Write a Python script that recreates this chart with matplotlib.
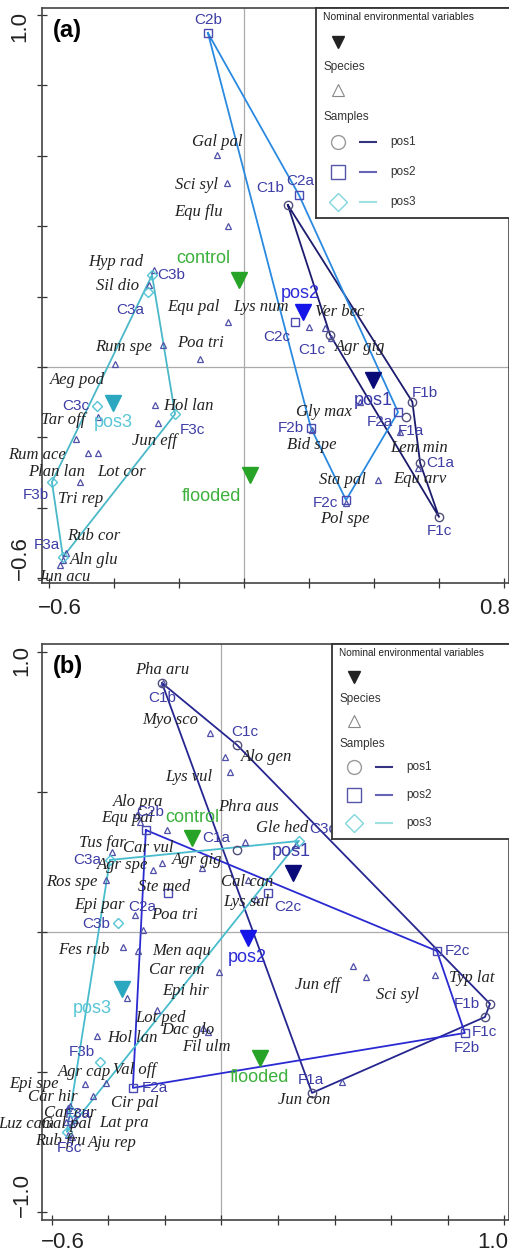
import matplotlib.pyplot as plt

plt.rcParams['font.family'] = ['Liberation Sans', 'DejaVu Sans']

# ---------------- painel (a) ----------------
# amostras (samples)
a_amostras = ['C1b', 'C1c', 'F1b', 'F1a', 'C1a', 'F1c',
              'C2b', 'C2a', 'C2c', 'F2b', 'F2c', 'F2a',
              'C3b', 'C3a', 'C3c', 'F3c', 'F3b', 'F3a']
a_amostras_x = [0.135, 0.265, 0.518, 0.498, 0.542, 0.600,
                -0.111, 0.169, 0.157, 0.206, 0.314, 0.474,
                -0.283, -0.295, -0.452, -0.212, -0.591, -0.557]
a_amostras_y = [0.460, 0.091, -0.099, -0.142, -0.273, -0.426,
                0.949, 0.489, 0.128, -0.173, -0.378, -0.128,
                0.261, 0.213, -0.111, -0.134, -0.327, -0.540]
a_amostras_pos = ['pos1'] * 6 + ['pos2'] * 6 + ['pos3'] * 6
a_contorno = {'pos1': ['C1b', 'F1b', 'C1a', 'F1c', 'C1c'],
              'pos2': ['C2b', 'C2a', 'F2a', 'F2c', 'F2b'],
              'pos3': ['C3b', 'F3c', 'F3a', 'F3b']}

# especies (species)
a_especies = ['Gal pal', 'Sci syl', 'Equ flu', 'Hyp rad', 'Sil dio', 'Equ pal',
              'Lys num', 'Ver bec', 'Agr gig', 'Rum spe', 'Poa tri', 'Aeg pod',
              'Hol lan', 'Jun eff', 'Tar off', 'Rum ace', 'Plan lan', 'Lot cor',
              'Tri rep', 'Rub cor', 'Aln glu', 'Jun acu', 'Gly max', 'Bid spe',
              'Lem min', 'Sta pal', 'Equ arv', 'Pol spe']
a_especies_x = [-0.083, -0.052, -0.049, -0.277, -0.292, -0.049,
                0.200, 0.249, 0.268, -0.249, -0.135, -0.397,
                -0.274, -0.265, -0.449, -0.517, -0.480, -0.449,
                -0.505, -0.548, -0.557, -0.566, 0.357, 0.209,
                0.480, 0.412, 0.535, 0.314]
a_especies_y = [0.602, 0.523, 0.401, 0.276, 0.233, 0.128,
                0.114, 0.111, 0.082, 0.063, 0.023, 0.009,
                -0.108, -0.159, -0.142, -0.205, -0.244, -0.244,
                -0.327, -0.528, -0.548, -0.563, -0.099, -0.179,
                -0.185, -0.321, -0.287, -0.386]

# variaveis ambientais nominais
a_variaveis = ['control', 'flooded', 'pos1', 'pos2', 'pos3']
a_variaveis_x = [-0.015, 0.018, 0.397, 0.182, -0.403]
a_variaveis_y = [0.247, -0.307, -0.037, 0.156, -0.102]

# ---------------- painel (b) ----------------
b_amostras = ['C1b', 'C1c', 'C1a', 'F1a', 'F1b', 'F1c',
              'C2b', 'C2a', 'C2c', 'F2c', 'F2b', 'F2a',
              'C3a', 'C3c', 'C3b', 'F3b', 'F3a', 'F3c']
b_amostras_x = [-0.210, 0.055, 0.055, 0.320, 0.949, 0.931,
                -0.267, -0.189, 0.164, 0.761, 0.860, -0.313,
                -0.394, 0.274, -0.366, -0.429, -0.528, -0.546]
b_amostras_y = [0.889, 0.668, 0.293, -0.575, -0.257, -0.304,
                0.364, 0.139, 0.139, -0.068, -0.361, -0.557,
                0.257, 0.325, 0.032, -0.464, -0.643, -0.714]
b_amostras_pos = ['pos1'] * 6 + ['pos2'] * 6 + ['pos3'] * 6
b_contorno = {'pos1': ['C1b', 'C1c', 'F1b', 'F1c', 'F1a'],
              'pos2': ['C2b', 'F2c', 'F2b', 'F2a'],
              'pos3': ['C3a', 'C3c', 'F3c']}

b_especies = ['Pha aru', 'Myo sco', 'Alo gen', 'Lys vul', 'Alo pra', 'Equ pal',
              'Car vul', 'Agr gig', 'Agr spe', 'Ste med', 'Tus far', 'Phra aus',
              'Gle hed', 'Ros spe', 'Epi par', 'Poa tri', 'Cal can', 'Lys sal',
              'Men aqu', 'Fes rub', 'Car rem', 'Epi hir', 'Lot ped', 'Dac glo',
              'Fil ulm', 'Hol lan', 'Agr cap', 'Val off', 'Cir pal', 'Epi spe',
              'Car hir', 'Car cur', 'Luz cam', 'Gal pal', 'Lat pra', 'Rub fru',
              'Aju rep', 'Jun eff', 'Sci syl', 'Typ lat', 'Jun con']
b_especies_x = [-0.207, -0.041, 0.012, 0.030, -0.299, -0.288,
                -0.193, -0.210, -0.242, -0.069, -0.387, 0.083,
                0.263, -0.408, -0.306, -0.277, 0.094, 0.122,
                -0.295, -0.348, -0.009, -0.228, -0.334, -0.065,
                -0.048, -0.440, -0.482, -0.408, -0.454, -0.535,
                -0.542, -0.535, -0.549, -0.528, -0.518, -0.542,
                -0.528, 0.465, 0.511, 0.754, 0.426]
b_especies_y = [0.889, 0.711, 0.625, 0.571, 0.418, 0.393,
                0.364, 0.246, 0.221, 0.229, 0.286, 0.321,
                0.311, 0.186, 0.061, 0.007, 0.186, 0.118,
                -0.068, -0.054, -0.143, -0.279, -0.236, -0.343,
                -0.357, -0.371, -0.543, -0.539, -0.586, -0.621,
                -0.629, -0.664, -0.679, -0.686, -0.671, -0.725,
                -0.732, -0.121, -0.161, -0.154, -0.536]

b_variaveis = ['control', 'flooded', 'pos1', 'pos2', 'pos3']
b_variaveis_x = [-0.104, 0.136, 0.253, 0.094, -0.352]
b_variaveis_y = [0.336, -0.450, 0.211, -0.021, -0.204]

# deslocamentos dos rotulos (pixels)
a_off_amostras = {'C1b': (-18, 17), 'C1c': (-18, -15), 'F1b': (12, 9), 'F1a': (5, -14),
                  'C1a': (20, 0), 'F1c': (0, -14), 'C2b': (0, 13), 'C2a': (1, 14),
                  'C2c': (-18, -15), 'F2b': (-20, 0), 'F2c': (-21, -3), 'F2a': (-18, -10),
                  'C3b': (19, 0), 'C3a': (-18, -18), 'C3c': (-21, 0), 'F3c': (17, -16),
                  'F3b': (-16, -13), 'F3a': (-16, 12)}
a_off_especies = [(0, 13), (-31, -2), (-30, 14), (-38, 8), (-32, -1), (-35, 15),
                  (-48, 20), (15, 16), (29, -9), (-40, -2), (0, 16), (-37, -16),
                  (33, -1), (-3, -18), (-35, -3), (-39, -16), (-31, -19), (23, -19),
                  (1, -17), (28, 17), (31, 0), (4, -12), (-36, -10), (0, -15),
                  (19, -16), (-35, 0), (2, -11), (-1, -16)]
a_off_variaveis = [(-36, 22), (-38, -21), (0, -20), (-3, 19), (0, -20)]

b_off_amostras = {'C1b': (0, -15), 'C1c': (8, 13), 'C1a': (-21, 12), 'F1a': (-1, 13),
                  'F1b': (-23, 0), 'F1c': (-1, -15), 'C2b': (4, 18), 'C2a': (-26, -14),
                  'C2c': (20, -14), 'F2c': (21, 0), 'F2b': (2, -15), 'F2a': (22, 0),
                  'C3a': (-23, 0), 'C3c': (24, 12), 'C3b': (-22, -1), 'F3b': (-18, 10),
                  'F3a': (6, -2), 'F3c': (3, -16)}
b_off_especies = [(-1, 13), (-40, 13), (42, 0), (-41, -5), (1, 13), (-13, 4),
                  (-19, -18), (35, 3), (-30, 5), (-38, -19), (-9, 9), (4, 35),
                  (-14, 17), (-34, -2), (-35, 10), (31, 15), (-1, -2), (-10, -3),
                  (44, 0), (-39, -3), (-42, 2), (29, 19), (34, -20), (-15, -2),
                  (-2, -15), (36, -2), (0, 12), (29, 13), (42, -7), (-36, 22),
                  (-15, 11), (0, 5), (-40, -2), (-6, 0), (49, -3), (-8, -6),
                  (40, -6), (-36, -19), (31, -18), (37, -3), (-38, -18)]
b_off_variaveis = [(0, 20), (0, -20), (-2, 21), (-1, -20), (-30, -19)]

# estilos
marcador = {'pos1': 'o', 'pos2': 's', 'pos3': 'D'}
tam_marcador = {'pos1': 6, 'pos2': 6, 'pos3': 5}
cor_marcador = {'pos1': '#50507a', 'pos2': '#4a4ab0', 'pos3': '#55c4d4'}
cor_linha_a = {'pos1': '#1c1c6e', 'pos2': '#2a8ae0', 'pos3': '#4ab8c8'}
cor_linha_b = {'pos1': '#262690', 'pos2': '#2a2ad2', 'pos3': '#48bccc'}
cor_var = {'control': '#27a327', 'flooded': '#27a327', 'pos1': '#0a0a78',
           'pos2': '#1515e8', 'pos3': '#2ba8c0'}
cor_var_txt = {'control': '#3cb03c', 'flooded': '#3cb03c', 'pos1': '#3a3aa8',
               'pos2': '#2b2bd8', 'pos3': '#58c6d6'}
cor_amostra_txt = '#3d3da5'

fig = plt.figure(figsize=(5.1, 12.54), dpi=100)


def fx(px):
    return px / 510


def fy(py):
    return 1 - py / 1254


def desenha_painel(ax, amostras, ax_x, ax_y, ax_pos, contorno, cores_linha,
                   especies, esp_x, esp_y, variaveis, var_x, var_y,
                   off_am, off_esp, off_var):
    ax.axvline(0, color='#aaaaaa', lw=0.9, zorder=1)
    ax.axhline(0, color='#aaaaaa', lw=0.9, zorder=1)

    # contornos dos grupos
    for grupo, nomes in contorno.items():
        xs = [ax_x[amostras.index(n)] for n in nomes]
        ys = [ax_y[amostras.index(n)] for n in nomes]
        xs.append(xs[0])
        ys.append(ys[0])
        ax.plot(xs, ys, color=cores_linha[grupo], lw=1.3, zorder=2)

    # especies
    ax.plot(esp_x, esp_y, linestyle='none', marker='^', ms=5, mfc='none',
            mec='#5050a8', mew=0.9, zorder=3)
    for i, nome in enumerate(especies):
        ax.annotate(nome, (esp_x[i], esp_y[i]), xytext=off_esp[i],
                    textcoords='offset pixels', ha='center', va='center',
                    fontsize=12, fontstyle='italic', color='#222222',
                    family=['Liberation Serif', 'DejaVu Serif'], zorder=6)

    # amostras
    for i, nome in enumerate(amostras):
        g = ax_pos[i]
        ax.plot(ax_x[i], ax_y[i], marker=marcador[g], ms=tam_marcador[g],
                mfc='none', mec=cor_marcador[g], mew=1.0, zorder=4)
        ax.annotate(nome, (ax_x[i], ax_y[i]), xytext=off_am[nome],
                    textcoords='offset pixels', ha='center', va='center',
                    fontsize=11, color=cor_amostra_txt, zorder=6)

    # variaveis nominais
    for i, nome in enumerate(variaveis):
        ax.plot(var_x[i], var_y[i], marker='v', ms=11, color=cor_var[nome],
                linestyle='none', zorder=5)
        ax.annotate(nome, (var_x[i], var_y[i]), xytext=off_var[i],
                    textcoords='offset pixels', ha='center', va='center',
                    fontsize=13, color=cor_var_txt[nome], zorder=6)

    for s in ax.spines.values():
        s.set_color('#444444')
        s.set_linewidth(1.2)
    ax.tick_params(direction='inout', length=7, width=0.9, color='#333333',
                   labelbottom=False, labelleft=False)


def desenha_legenda(pos_px, altura, fs_titulo):
    # pos_px = (esquerda, topo, direita, base) em pixels da figura
    e, t, d, b = pos_px
    lg = fig.add_axes([fx(e), fy(b), fx(d - e), (b - t) / 1254])
    lg.set_xlim(0, d - e)
    lg.set_ylim(b - t, 0)
    lg.set_xticks([])
    lg.set_yticks([])
    for s in lg.spines.values():
        s.set_color('#333333')
        s.set_linewidth(1.3)
    h = altura
    lg.text(7, h[0], 'Nominal environmental variables', fontsize=fs_titulo,
            va='center', color='#222222')
    lg.plot(22, h[1], marker='v', ms=8, color='#222222')
    lg.text(7, h[2], 'Species', fontsize=8.5, va='center', color='#333333')
    lg.plot(22, h[3], marker='^', ms=9, mfc='none', mec='#888888', mew=0.8)
    lg.text(7, h[4], 'Samples', fontsize=8.5, va='center', color='#333333')
    cores_leg = {'pos1': '#9a9a9a', 'pos2': '#5555aa', 'pos3': '#7fd6dd'}
    linhas_leg = {'pos1': '#333380', 'pos2': '#6565b5', 'pos3': '#9fe0e0'}
    for k, g in enumerate(['pos1', 'pos2', 'pos3']):
        yy = h[5 + k]
        lg.plot(22, yy, marker=marcador[g], ms=tam_marcador[g] + 4, mfc='none',
                mec=cores_leg[g], mew=1.0)
        lg.plot([44, 60], [yy, yy], color=linhas_leg[g], lw=1.5)
        lg.text(74, yy, g, fontsize=8.5, va='center', color='#333333')


# painel (a)
ax_a = fig.add_axes([fx(42), fy(583), fx(467), 575 / 1254])
desenha_painel(ax_a, a_amostras, a_amostras_x, a_amostras_y, a_amostras_pos,
               a_contorno, cor_linha_a, a_especies, a_especies_x, a_especies_y,
               a_variaveis, a_variaveis_x, a_variaveis_y,
               a_off_amostras, a_off_especies, a_off_variaveis)
ax_a.set_xlim(-0.6215, 0.8154)
ax_a.set_ylim(-0.6136, 1.0199)
ax_a.set_xticks([-0.6, -0.4, -0.2, 0.0, 0.2, 0.4, 0.6, 0.8])
ax_a.set_yticks([-0.6, -0.4, -0.2, 0.0, 0.2, 0.4, 0.6, 0.8, 1.0])

# painel (b)
ax_b = fig.add_axes([fx(42), fy(1220), fx(467), 576 / 1254])
desenha_painel(ax_b, b_amostras, b_amostras_x, b_amostras_y, b_amostras_pos,
               b_contorno, cor_linha_b, b_especies, b_especies_x, b_especies_y,
               b_variaveis, b_variaveis_x, b_variaveis_y,
               b_off_amostras, b_off_especies, b_off_variaveis)
ax_b.set_xlim(-0.634, 1.016)
ax_b.set_ylim(-1.029, 1.0286)
ax_b.set_xticks([-0.6, -0.4, -0.2, 0.0, 0.2, 0.4, 0.6, 0.8, 1.0])
ax_b.set_yticks([-1.0, -0.5, 0.0, 0.5, 1.0])

# legendas
desenha_legenda((316, 8, 512, 218), [9, 34, 59, 82, 109, 134, 164, 194], 7.5)
desenha_legenda((332, 644, 512, 839), [9, 33, 55, 77, 100, 123, 151, 179], 7.2)

# rotulos dos eixos e letras dos paineis
fig.text(fx(67), fy(31), '(a)', fontsize=17, fontweight='bold', ha='center', va='center')
fig.text(fx(68), fy(666), '(b)', fontsize=17, fontweight='bold', ha='center', va='center')
for txt, x, y, rot in [('1.0', 20, 26, 90), ('\u22120.6', 20, 558, 90),
                       ('\u22120.6', 60, 608, 0), ('0.8', 495, 608, 0),
                       ('1.0', 22, 661, 90), ('\u22121.0', 22, 1195, 90),
                       ('\u22120.6', 63, 1242, 0), ('1.0', 493, 1242, 0)]:
    fig.text(fx(x), fy(y), txt, fontsize=16, rotation=rot, ha='center',
             va='center', color='#222222')

plt.savefig('out.png', dpi=100)
